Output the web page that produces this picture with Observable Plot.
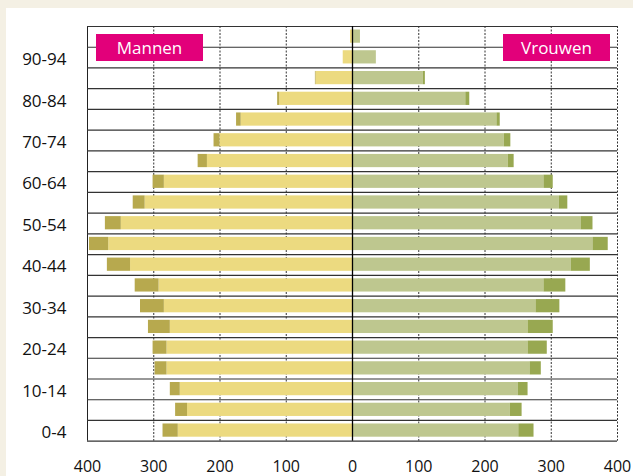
<!DOCTYPE html>
<html><head><meta charset="utf-8">
<script src="https://cdn.jsdelivr.net/npm/d3@7"></script>
<script src="https://cdn.jsdelivr.net/npm/@observablehq/plot@0.6"></script>
<style>
html,body{margin:0;padding:0;background:#f4f0e4;}
#wrap{position:absolute;left:6px;top:8px;width:627px;height:468px;background:#fff;}
#wrap svg{display:block;}
.tag{position:absolute;background:#e2007a;color:#fff;font:17px "Open Sans",sans-serif;display:flex;align-items:center;justify-content:center;height:27px;width:107px;top:26px;}
</style></head><body>
<div id="wrap"></div>
<script>
const ageGroups = ["0-4","5-9","10-14","15-19","20-24","25-29","30-34","35-39","40-44","45-49","50-54","55-59","60-64","65-69","70-74","75-79","80-84","85-89","90-94","95+"];
const menBase    = [263,249,260,280,280,275,284,292,335,368,349,313,284,219,200,168,110,55,14,3];
const menExtra   = [23,18,15,18,21,33,36,36,35,29,24,18,17,14,9,7,3,1,0,0];
const womenBase  = [251,238,250,268,265,265,277,289,330,363,345,312,289,235,229,218,171,107,36,12];
const womenExtra = [23,18,15,17,29,38,36,33,29,23,18,13,14,9,10,5,6,3,0,0];
const xTicks = [-400,-300,-200,-100,0,100,200,300,400];
const labelsMen = "Mannen", labelsWomen = "Vrouwen";

const rows = ageGroups.map((age,i)=>({age,i,mb:menBase[i],me:menExtra[i],wb:womenBase[i],we:womenExtra[i]}));
const labelIdx = rows.filter(d=>d.i%2===0).map(d=>d.i+0.5);

const chart = Plot.plot({
  width:627, height:468,
  marginLeft:81, marginRight:16, marginTop:18, marginBottom:35.3,
  style:{fontFamily:"'Open Sans',sans-serif", fontSize:"16px", color:"#111", background:"#fff"},
  x:{domain:[-400,400]},
  y:{domain:[0,ageGroups.length]},
  marks:[
    Plot.ruleX(xTicks.filter(v=>v!==0 && v!==-400), {stroke:"#333", strokeDasharray:"2,1.5", strokeWidth:1}),
    Plot.ruleX([-400], {stroke:"#222", strokeWidth:1}),
    Plot.ruleY(d3.range(ageGroups.length+1), {stroke:"#333", strokeWidth:1.2}),
    Plot.rect(rows, {x1:0, x2:d=>-d.mb, y1:"i", y2:d=>d.i+1, insetTop:3.5, insetBottom:4, fill:"#ecda80"}),
    Plot.rect(rows.filter(d=>d.me>0), {x1:d=>-d.mb, x2:d=>-(d.mb+d.me), y1:"i", y2:d=>d.i+1, insetTop:3.5, insetBottom:4, fill:"#b7a94e"}),
    Plot.rect(rows, {x1:0, x2:"wb", y1:"i", y2:d=>d.i+1, insetTop:3.5, insetBottom:4, fill:"#bec78f"}),
    Plot.rect(rows.filter(d=>d.we>0), {x1:"wb", x2:d=>d.wb+d.we, y1:"i", y2:d=>d.i+1, insetTop:3.5, insetBottom:4, fill:"#98a851"}),
    Plot.ruleX([0], {stroke:"#000", strokeWidth:1.3}),
    Plot.axisX({ticks:xTicks, tickFormat:d=>String(Math.abs(d)), tickSize:0, tickPadding:19, fontSize:16, fontWeight:500, fill:"#111", label:null}),
    Plot.axisY({ticks:labelIdx, tickFormat:v=>ageGroups[Math.floor(v)], tickSize:0, tickPadding:21, fontSize:17, fontWeight:500, fill:"#111", label:null, dy:2})
  ]
});
const wrap = document.getElementById("wrap");
wrap.appendChild(chart);
const m = document.createElement("div"); m.className="tag"; m.textContent=labelsMen; m.style.left="90px"; wrap.appendChild(m);
const w = document.createElement("div"); w.className="tag"; w.textContent=labelsWomen; w.style.left="497px"; wrap.appendChild(w);
</script>
</body></html>
